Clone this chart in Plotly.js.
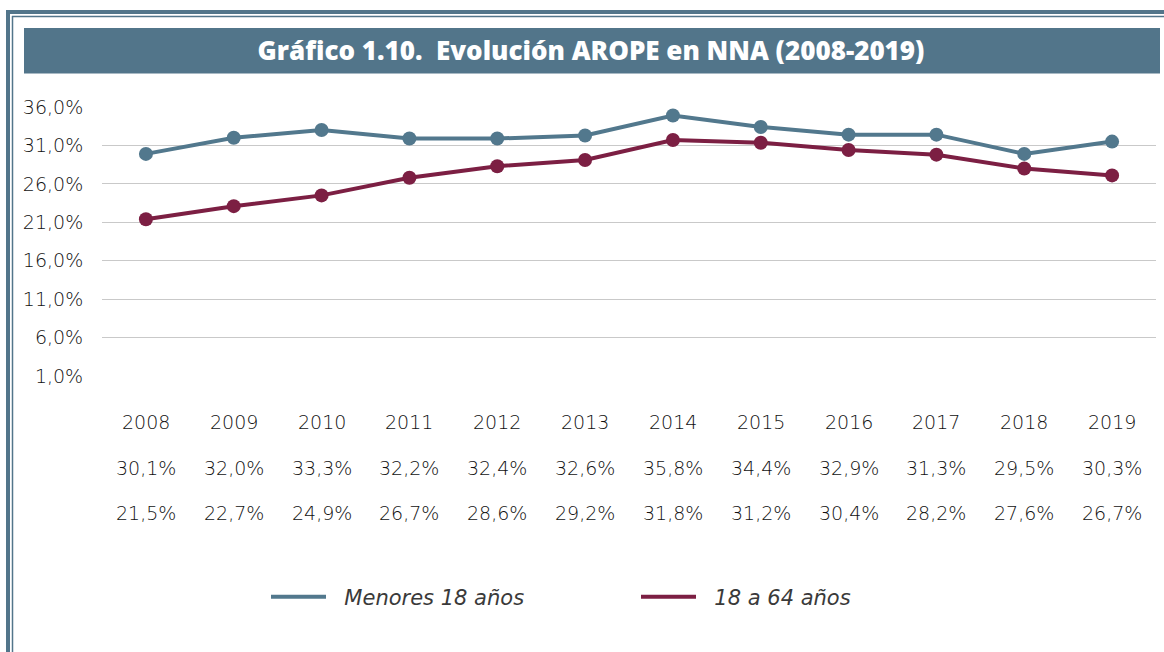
<!DOCTYPE html>
<html>
<head>
<meta charset="utf-8">
<script src="https://cdn.plot.ly/plotly-3.0.1.min.js"></script>
<style>
html,body{margin:0;padding:0;background:#fff;}
#chart{width:1164px;height:652px;}
</style>
</head>
<body>
<div id="chart"></div>
<script>
// ---- Data ----
const years = ["2008","2009","2010","2011","2012","2013","2014","2015","2016","2017","2018","2019"];
// values as drawn by the lines
const menoresLine = [29.9, 32.0, 33.0, 31.9, 31.9, 32.3, 34.9, 33.4, 32.4, 32.4, 29.9, 31.5];
const adultosLine = [21.4, 23.1, 24.5, 26.8, 28.3, 29.1, 31.7, 31.35, 30.4, 29.8, 28.0, 27.1];
// values printed in the table under the chart
const menoresTable = ["30,1%","32,0%","33,3%","32,2%","32,4%","32,6%","35,8%","34,4%","32,9%","31,3%","29,5%","30,3%"];
const adultosTable = ["21,5%","22,7%","24,9%","26,7%","28,6%","29,2%","31,8%","31,2%","30,4%","28,2%","27,6%","26,7%"];
const seriesNames = ["Menores 18 años", "18 a 64 años"];
const yTicks = [1, 6, 11, 16, 21, 26, 31, 36];
const yTickText = ["1,0%","6,0%","11,0%","16,0%","21,0%","26,0%","31,0%","36,0%"];
const titleText = "Gráfico 1.10.\u00A0 Evolución AROPE en NNA (2008-2019)";

// ---- Styles ----
const BLUE = "#52788d";
const MAROON = "#7c1f43";
const FRAME = "#52758a";
const TXT = "#111111";
const FONT = "'DejaVu Sans', 'Open Sans', sans-serif";
const TITLE_FONT = "'Open Sans', Lato, sans-serif";
const W_LIGHT = 200;

const W = 1164, H = 652;
const M = {l: 102, r: 8, t: 107, b: 276};
const PW = W - M.l - M.r, PH = H - M.t - M.b;
const px = x => (x - M.l) / PW;            // pixel -> paper x
const py = y => (H - M.b - y) / PH;        // pixel -> paper y

const traces = [
  {x: years, y: menoresLine, name: seriesNames[0], mode: "lines+markers", showlegend: false,
   line: {color: BLUE, width: 4}, marker: {color: BLUE, size: 14}, cliponaxis: false},
  {x: years, y: adultosLine, name: seriesNames[1], mode: "lines+markers", showlegend: false,
   line: {color: MAROON, width: 4}, marker: {color: MAROON, size: 14}, cliponaxis: false},
  // legend-only entries (line swatch without marker)
  {x: [years[0]], y: [null], name: "\u00A0\u00A0" + seriesNames[0], mode: "lines", line: {color: BLUE, width: 4}},
  {x: [years[0]], y: [null], name: "\u00A0\u00A0" + seriesNames[1], mode: "lines", line: {color: MAROON, width: 4}}
];

const annotations = [];
const rows = [[years, 422], [menoresTable, 468], [adultosTable, 513]];
rows.forEach(([labels, yy]) => {
  labels.forEach((t, i) => {
    annotations.push({x: i, xref: "x", y: py(yy), yref: "paper", text: t,
      showarrow: false, xanchor: "center", yanchor: "middle",
      font: {family: FONT, size: 19, weight: W_LIGHT, color: TXT}});
  });
});

const shapes = [
  // banner
  {type: "rect", xref: "paper", yref: "paper", x0: px(24), x1: px(1160), y0: py(28), y1: py(73.5),
   fillcolor: FRAME, line: {width: 0}, layer: "below"},
  // outer frame (thick)
  {type: "line", xref: "paper", yref: "paper", x0: px(6), x1: px(1164), y0: py(12), y1: py(12), line: {color: FRAME, width: 4}},
  {type: "line", xref: "paper", yref: "paper", x0: px(8), x1: px(8), y0: py(10), y1: py(652), line: {color: FRAME, width: 4}},
  // inner frame (thin)
  {type: "line", xref: "paper", yref: "paper", x0: px(12), x1: px(1164), y0: py(16.5), y1: py(16.5), line: {color: FRAME, width: 1.5}},
  {type: "line", xref: "paper", yref: "paper", x0: px(12.5), x1: px(12.5), y0: py(16), y1: py(652), line: {color: FRAME, width: 1.5}}
];

const layout = {
  width: W, height: H,
  margin: M,
  paper_bgcolor: "#fff", plot_bgcolor: "#fff",
  font: {family: FONT, color: TXT},
  title: {text: titleText, x: 591 / W, xanchor: "center", y: 1 - 51 / H, yanchor: "middle",
          xref: "container", yref: "container",
          font: {family: TITLE_FONT, size: 26, weight: 800, color: "#ffffff"}},
  xaxis: {type: "category", categoryorder: "array", categoryarray: years, range: [-0.5, 11.5],
          showticklabels: false, showgrid: false, zeroline: false, showline: false, fixedrange: true},
  yaxis: {range: [1, 36], tickvals: yTicks, ticktext: yTickText, showgrid: true, gridcolor: "#c9c9c9", gridwidth: 1.2,
          zeroline: false, showline: false, ticks: "outside", ticklen: 14, tickcolor: "rgba(0,0,0,0)",
          tickfont: {family: FONT, size: 19, weight: W_LIGHT, color: TXT}, fixedrange: true},
  showlegend: true,
  legend: {orientation: "h", x: px(266), xanchor: "left", y: py(597), yanchor: "middle",
           entrywidth: 300, entrywidthmode: "pixels", itemwidth: 55,
           font: {family: FONT, size: 21, weight: W_LIGHT, color: "#3a3a3a", style: "italic"}, bgcolor: "rgba(0,0,0,0)"},
  annotations: annotations,
  shapes: shapes
};

Plotly.newPlot("chart", traces, layout, {displayModeBar: false, staticPlot: true});
</script>
</body>
</html>
